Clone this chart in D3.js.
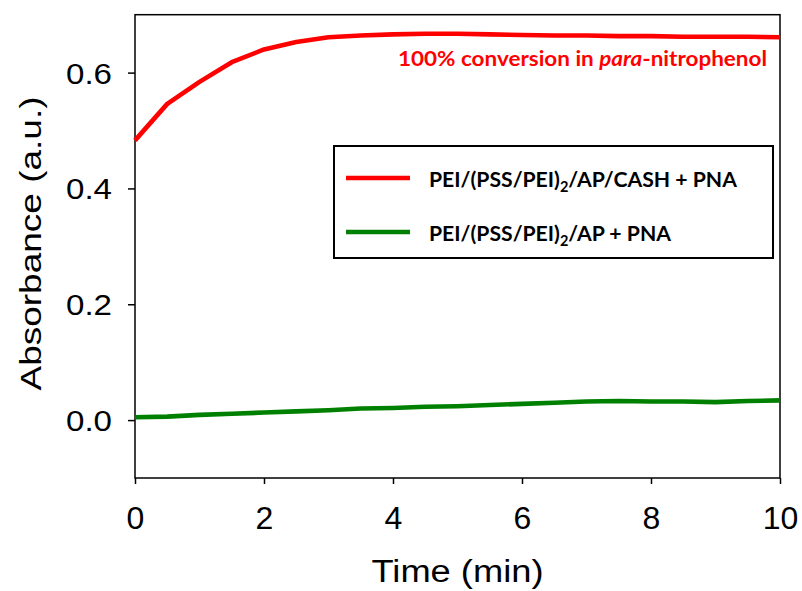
<!DOCTYPE html>
<html>
<head>
<meta charset="utf-8">
<script src="https://cdn.jsdelivr.net/npm/d3@7"></script>
<style>
  html, body { margin: 0; padding: 0; background: #fff; }
  svg { display: block; }
</style>
</head>
<body>
<svg id="chart" width="802" height="591"></svg>
<script>
// ---- data ----
const times = [0, 0.5, 1, 1.5, 2, 2.5, 3, 3.5, 4, 4.5, 5, 5.5, 6, 6.5, 7, 7.5, 8, 8.5, 9, 9.5, 10];
const cashValues = [0.483, 0.546, 0.584, 0.618, 0.640, 0.653, 0.661, 0.664, 0.666, 0.667, 0.667, 0.666, 0.665, 0.664, 0.664, 0.663, 0.663, 0.662, 0.662, 0.662, 0.661];
const apValues = [0.005, 0.006, 0.009, 0.011, 0.013, 0.015, 0.017, 0.020, 0.021, 0.023, 0.024, 0.026, 0.028, 0.030, 0.032, 0.033, 0.032, 0.032, 0.031, 0.033, 0.034];
const xTicks = [0, 2, 4, 6, 8, 10];
const yTicks = [0.0, 0.2, 0.4, 0.6];
const seriesNames = ["CASH", "AP"];
const seriesColors = ["#ff0000", "#008000"];

// ---- layout ----
const svg = d3.select("#chart");
const L = 135, R = 780, T = 14.7, B = 478;
const x = d3.scaleLinear().domain([0, 10]).range([L, R]);
const y = d3.scaleLinear().domain([-0.1, 0.7]).range([B, T]);

// frame
svg.append("rect")
  .attr("x", L).attr("y", T).attr("width", R - L).attr("height", B - T)
  .attr("fill", "none").attr("stroke", "#000").attr("stroke-width", 1.5);

// x axis
const xAxis = svg.append("g").attr("transform", `translate(0,${B})`)
  .call(d3.axisBottom(x).tickValues(xTicks).tickFormat(d3.format("d")).tickSize(6).tickPadding(22).tickSizeOuter(0));
xAxis.select(".domain").remove();
xAxis.selectAll(".tick line").attr("stroke", "#000").attr("stroke-width", 1.5);
xAxis.selectAll(".tick text")
  .attr("font-family", "'Liberation Sans', Arial, sans-serif")
  .attr("font-size", 32).attr("fill", "#000").attr("dy", "0.71em");

// y axis
const yAxis = svg.append("g").attr("transform", `translate(${L},0)`)
  .call(d3.axisLeft(y).tickValues(yTicks).tickFormat(d3.format(".1f")).tickSize(7).tickPadding(16).tickSizeOuter(0));
yAxis.select(".domain").remove();
yAxis.selectAll(".tick line").attr("stroke", "#000").attr("stroke-width", 1.5);
yAxis.selectAll(".tick text")
  .attr("font-family", "'Liberation Sans', Arial, sans-serif")
  .attr("font-size", 29).attr("fill", "#000").attr("dy", "0.36em")
  .attr("textLength", 46).attr("lengthAdjust", "spacingAndGlyphs");

// axis titles
svg.append("text")
  .attr("x", (L + R) / 2).attr("y", 582)
  .attr("text-anchor", "middle")
  .attr("font-family", "'Liberation Sans', Arial, sans-serif")
  .attr("font-size", 31)
  .attr("textLength", 172).attr("lengthAdjust", "spacingAndGlyphs")
  .text("Time (min)");

svg.append("text")
  .attr("transform", "translate(41,243.5) rotate(-90)")
  .attr("text-anchor", "middle")
  .attr("font-family", "'Liberation Sans', Arial, sans-serif")
  .attr("font-size", 29)
  .attr("textLength", 294).attr("lengthAdjust", "spacingAndGlyphs")
  .text("Absorbance (a.u.)");

// lines
const line = d3.line().x((d, i) => x(times[i])).y(d => y(d)).curve(d3.curveLinear);
const seriesData = [cashValues, apValues];
svg.selectAll("path.series").data(seriesData).enter().append("path")
  .attr("class", "series")
  .attr("d", d => line(d))
  .attr("fill", "none")
  .attr("stroke", (d, i) => seriesColors[i])
  .attr("stroke-width", 4.6)
  .attr("stroke-linejoin", "round");

// annotation
const ann = svg.append("text")
  .attr("x", 767).attr("y", 66)
  .attr("text-anchor", "end")
  .attr("font-family", "Lato, 'Open Sans', sans-serif")
  .attr("font-weight", "bold")
  .attr("font-size", 21.5)
  .attr("fill", "#ff0000")
  .attr("textLength", 369).attr("lengthAdjust", "spacingAndGlyphs");
ann.append("tspan").text("100% conversion in ");
ann.append("tspan").attr("font-style", "italic").text("para");
ann.append("tspan").text("-nitrophenol");

// legend
const lg = svg.append("g");
lg.append("rect")
  .attr("x", 334).attr("y", 146).attr("width", 439).attr("height", 112)
  .attr("fill", "#fff").attr("stroke", "#000").attr("stroke-width", 2);
const legendRows = [
  { y: 178, color: seriesColors[0], parts: ["PEI/(PSS/PEI)", "2", "/AP/CASH + PNA"] },
  { y: 232, color: seriesColors[1], parts: ["PEI/(PSS/PEI)", "2", "/AP + PNA"] }
];
legendRows.forEach(r => {
  lg.append("line").attr("x1", 346).attr("x2", 410).attr("y1", r.y).attr("y2", r.y)
    .attr("stroke", r.color).attr("stroke-width", 4.6);
  const t = lg.append("text")
    .attr("x", 429).attr("y", r.y + 9)
    .attr("font-family", "Lato, 'Open Sans', sans-serif")
    .attr("font-weight", "bold")
    .attr("font-size", 21.2)
    .attr("fill", "#000");
  t.append("tspan").text(r.parts[0]);
  t.append("tspan").attr("font-size", 14.5).attr("dy", 5).text(r.parts[1]);
  t.append("tspan").attr("dy", -5).text(r.parts[2]);
});
</script>
</body>
</html>
